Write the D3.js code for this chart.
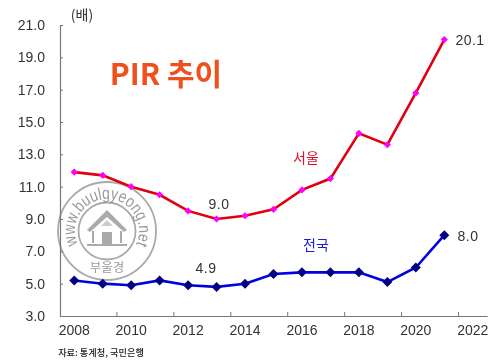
<!DOCTYPE html>
<html>
<head>
<meta charset="utf-8">
<script src="https://cdn.jsdelivr.net/npm/d3@7"></script>
<style>
body { margin: 0; background: #fff; }
svg { filter: blur(0.35px); }
text { font-family: "Liberation Sans", Arial, sans-serif; fill: #333; }
.kr { font-family: "Noto Sans CJK KR", sans-serif; }
</style>
</head>
<body>
<div id="chart"></div>
<script>
const years = [2008, 2009, 2010, 2011, 2012, 2013, 2014, 2015, 2016, 2017, 2018, 2019, 2020, 2021, 2022]
const seoul = [11.9, 11.7, 11.0, 10.5, 9.5, 9.0, 9.2, 9.6, 10.8, 11.5, 14.3, 13.6, 16.8, 20.1]
const national = [5.2, 5.0, 4.9, 5.2, 4.9, 4.8, 5.0, 5.6, 5.7, 5.7, 5.7, 5.1, 6.0, 8.0]
const yTicks = [3, 5, 7, 9, 11, 13, 15, 17, 19, 21]

const width = 500
const height = 362

const svg = d3.select('#chart').append('svg')
    .attr('width', width)
    .attr('height', height)

const x = d3.scaleBand().domain(years).range([60, 487])
const y = d3.scaleLinear().domain([3, 21]).range([316, 25])

// watermark goes under the lines
const mark = svg.append('g').attr('transform', 'translate(107,231)')
mark.append('circle').attr('r', 49).attr('fill', 'none').attr('stroke', '#aaa').attr('stroke-width', 1.8)
mark.append('circle').attr('r', 28.5).attr('fill', 'none').attr('stroke', '#aaa').attr('stroke-width', 1.8)
svg.append('defs').append('path')
    .attr('id', 'ring')
    .attr('d', 'M -16 27.7 A 32 32 0 1 1 16 27.7')
mark.append('text')
    .attr('font-size', 17)
    .style('fill', '#9a9a9a')
    .append('textPath')
    .attr('href', '#ring')
    .attr('startOffset', '50%')
    .attr('text-anchor', 'middle')
    .attr('textLength', 128)
    .attr('lengthAdjust', 'spacingAndGlyphs')
    .text('www.buulgyeong.net')
mark.append('text')
    .attr('class', 'kr')
    .attr('y', 41)
    .attr('text-anchor', 'middle')
    .attr('font-size', 12.5)
    .style('fill', '#9a9a9a')
    .text('부울경')
// house
mark.append('path')
    .attr('fill', '#aaa')
    .attr('d', 'M -20 -1 L 0 -21 L 20 -1 L 17 1 L 0 -14 L -17 1 Z')
mark.append('path')
    .attr('fill', 'none')
    .attr('stroke', '#aaa')
    .attr('stroke-width', 2)
    .attr('d', 'M -14 0 V 12 M 14 0 V 12 M -20 14 H 20')
mark.append('rect').attr('x', -5).attr('y', 1).attr('width', 10).attr('height', 12).attr('fill', '#aaa')
mark.append('path').attr('fill', '#ccc').attr('d', 'M -6 -5 L 0 -11 L 6 -5 Z')

// axes
const yAxis = svg.append('g')
    .attr('transform', 'translate(60,0)')
    .call(d3.axisLeft(y).tickValues(yTicks).tickFormat(d3.format('.1f')).tickSize(-3).tickPadding(15))
yAxis.select('.domain').attr('stroke', '#777').attr('stroke-width', 1.2)
yAxis.selectAll('.tick line').attr('stroke', '#777')
yAxis.selectAll('.tick text').attr('font-size', 14).attr('font-family', '"Liberation Sans", sans-serif').style('fill', '#333')

const xAxis = svg.append('g')
    .attr('transform', 'translate(0,316)')
    .call(d3.axisBottom(x).tickValues(years.filter((d, i) => i % 2 == 0)).tickSize(0).tickPadding(9))
xAxis.select('.domain').attr('stroke', '#777').attr('stroke-width', 1.2)
xAxis.selectAll('.tick text').attr('font-size', 14).attr('font-family', '"Liberation Sans", sans-serif').style('fill', '#333')

// small ticks sit on the left edge of every other band
svg.append('g')
    .selectAll('line')
    .data(years.filter((d, i) => i % 2 == 0 && i > 0))
    .join('line')
    .attr('x1', d => x(d))
    .attr('x2', d => x(d))
    .attr('y1', 316)
    .attr('y2', 312)
    .attr('stroke', '#777')

const line = d3.line()
    .x((d, i) => x(years[i]) + x.bandwidth() / 2)
    .y(d => y(d))

svg.append('path').datum(seoul)
    .attr('d', line).attr('fill', 'none').attr('stroke', '#e00010').attr('stroke-width', 2.6)
svg.append('path').datum(national)
    .attr('d', line).attr('fill', 'none').attr('stroke', '#0000e0').attr('stroke-width', 2.6)

const symbol = d3.symbol().type(d3.symbolSquare)

svg.append('g').selectAll('path')
    .data(seoul)
    .join('path')
    .attr('d', symbol.size(26)())
    .attr('transform', (d, i) => `translate(${x(years[i]) + x.bandwidth() / 2},${y(d)}) rotate(45)`)
    .attr('fill', '#ff00ff')

svg.append('g').selectAll('path')
    .data(national)
    .join('path')
    .attr('d', symbol.size(50)())
    .attr('transform', (d, i) => `translate(${x(years[i]) + x.bandwidth() / 2},${y(d)}) rotate(45)`)
    .attr('fill', '#000080')

function label(txt, px, py, size, color, cls, weight) {
    return svg.append('text')
        .attr('x', px)
        .attr('y', py)
        .attr('font-size', size)
        .attr('class', cls || null)
        .attr('font-weight', weight || null)
        .attr('text-anchor', 'middle')
        .style('fill', color || '#333')
        .text(txt)
}

label('(배)', 82, 20, 14, '#333', 'kr')
label('PIR 추이', 166, 85, 30, '#f0501e', 'kr', 700)
label('20.1', 470, 45, 14).attr('letter-spacing', 0.5)
label('9.0', 219, 209, 14).attr('letter-spacing', 0.5)
label('4.9', 206, 273, 14).attr('letter-spacing', 0.5)
label('8.0', 468, 241, 14).attr('letter-spacing', 0.5)
label('서울', 306, 163, 14, '#e0102a', 'kr')
label('전국', 316, 250, 14, '#1a1ae0', 'kr')
label('자료: 통계청, 국민은행', 101, 356, 9.2, '#222', 'kr', 500)
</script>
</body>
</html>
